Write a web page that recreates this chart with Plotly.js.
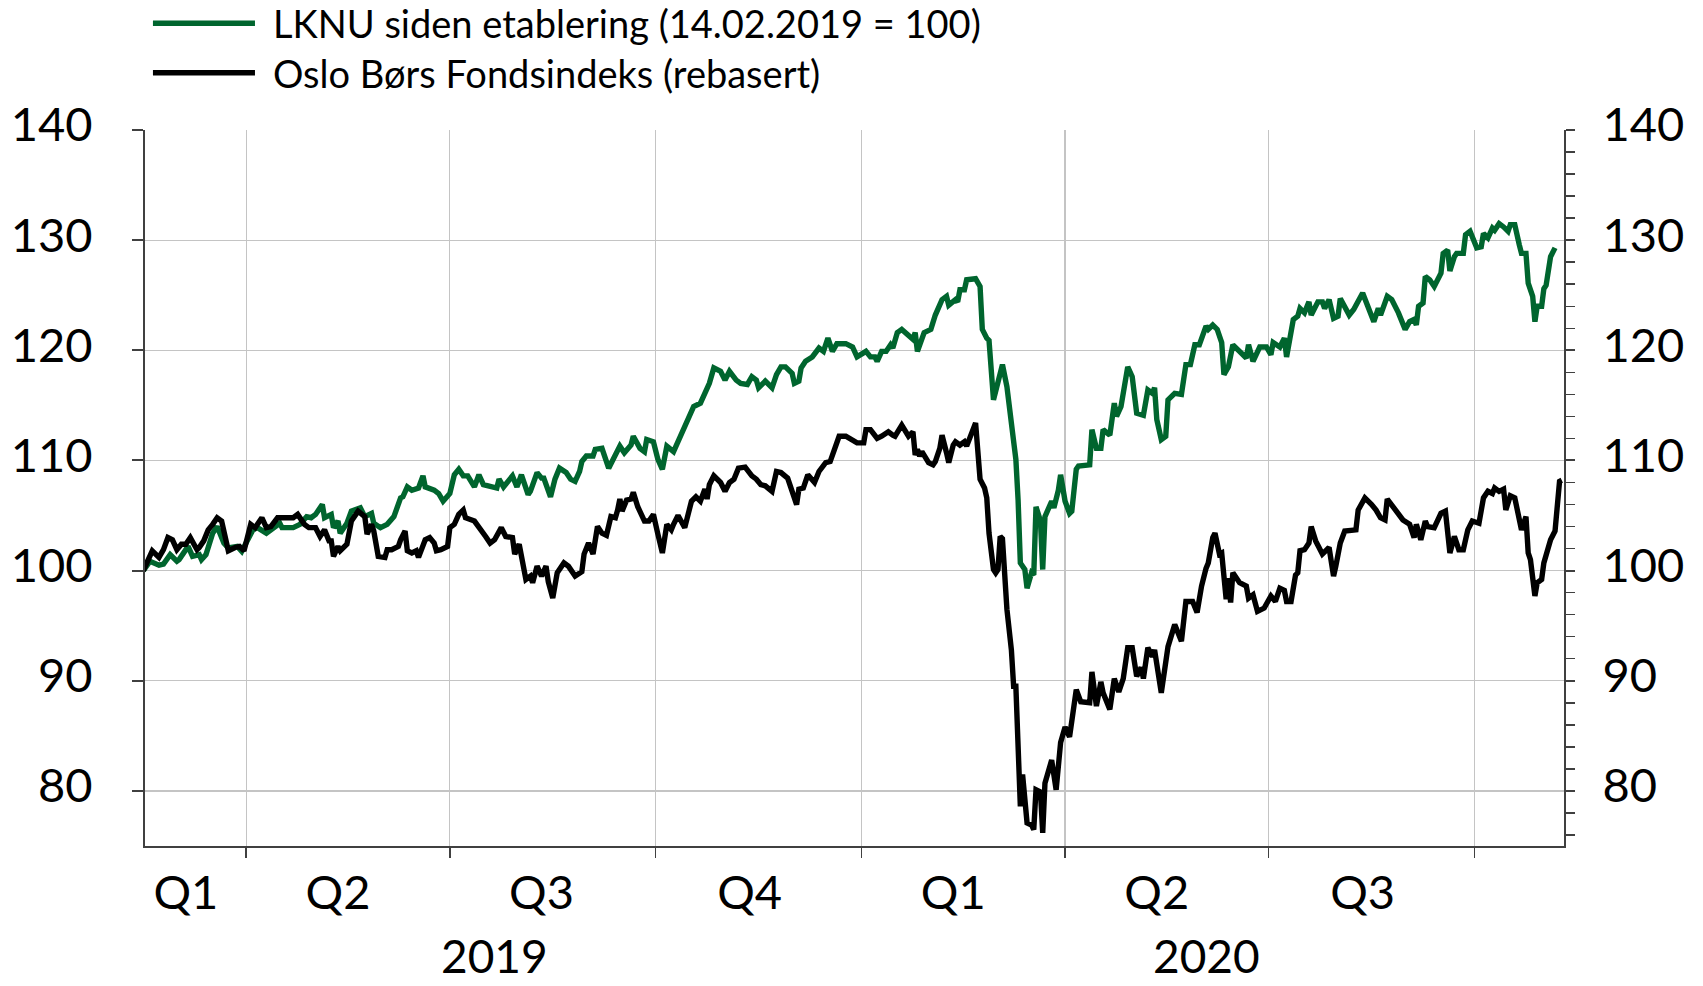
<!DOCTYPE html>
<html>
<head>
<meta charset="utf-8">
<script src="https://cdn.plot.ly/plotly-3.0.1.min.js"></script>
<style>
  html, body { margin: 0; padding: 0; background: #ffffff; }
  #chart { width: 1703px; height: 986px; }
</style>
</head>
<body>
<div id="chart"></div>
<script>
// ---------- DATA ----------
const seriesNames = [
  "LKNU siden etablering (14.02.2019 = 100)",
  "Oslo Børs Fondsindeks (rebasert)"
];

const lknuDates = [
"2019-02-14","2019-02-17","2019-02-21","2019-02-23","2019-02-26","2019-03-01","2019-03-02","2019-03-06","2019-03-08","2019-03-11",
"2019-03-12","2019-03-14","2019-03-17","2019-03-19","2019-03-22","2019-03-24","2019-03-28","2019-03-30","2019-04-04","2019-04-06",
"2019-04-10","2019-04-12","2019-04-16","2019-04-17","2019-04-22","2019-04-25","2019-04-28","2019-04-30","2019-05-02","2019-05-05",
"2019-05-06","2019-05-09","2019-05-10","2019-05-12","2019-05-13","2019-05-16","2019-05-18","2019-05-22","2019-05-24","2019-05-27",
"2019-05-28","2019-05-31","2019-06-03","2019-06-06","2019-06-09","2019-06-10","2019-06-12","2019-06-14","2019-06-17","2019-06-19",
"2019-06-20","2019-06-24","2019-06-26","2019-06-28","2019-07-01","2019-07-03","2019-07-05","2019-07-07","2019-07-09","2019-07-12",
"2019-07-14","2019-07-16","2019-07-19","2019-07-22","2019-07-23","2019-07-25","2019-07-29","2019-07-31","2019-08-02","2019-08-05",
"2019-08-06","2019-08-09","2019-08-11","2019-08-12","2019-08-15","2019-08-17","2019-08-19","2019-08-22","2019-08-24","2019-08-26",
"2019-08-28","2019-08-29","2019-08-31","2019-09-03","2019-09-04","2019-09-07","2019-09-10","2019-09-12","2019-09-15","2019-09-17",
"2019-09-20","2019-09-21","2019-09-24","2019-09-26","2019-09-27","2019-09-30","2019-10-02","2019-10-04","2019-10-06","2019-10-09",
"2019-10-12","2019-10-13","2019-10-15","2019-10-18","2019-10-21","2019-10-23","2019-10-25","2019-10-27","2019-10-30","2019-11-01",
"2019-11-03","2019-11-06","2019-11-08","2019-11-11","2019-11-13","2019-11-15","2019-11-16","2019-11-19","2019-11-22","2019-11-24",
"2019-11-26","2019-11-28","2019-12-01","2019-12-02","2019-12-04","2019-12-05","2019-12-07","2019-12-10","2019-12-13","2019-12-15",
"2019-12-17","2019-12-19","2019-12-21","2019-12-25","2019-12-28","2019-12-30","2020-01-01","2020-01-03","2020-01-05","2020-01-07",
"2020-01-08","2020-01-10","2020-01-12","2020-01-14","2020-01-15","2020-01-17","2020-01-19","2020-01-22","2020-01-24","2020-01-25",
"2020-01-26","2020-01-29","2020-01-31","2020-02-01","2020-02-03","2020-02-06","2020-02-08","2020-02-09","2020-02-12","2020-02-13",
"2020-02-14","2020-02-16","2020-02-17","2020-02-21","2020-02-23","2020-02-24","2020-02-26","2020-02-27","2020-02-29","2020-03-02",
"2020-03-04","2020-03-06","2020-03-08","2020-03-10","2020-03-11","2020-03-12","2020-03-14","2020-03-15","2020-03-17","2020-03-18",
"2020-03-19","2020-03-21","2020-03-22","2020-03-23","2020-03-26","2020-03-27","2020-03-29","2020-03-30","2020-04-01","2020-04-03",
"2020-04-04","2020-04-06","2020-04-07","2020-04-12","2020-04-13","2020-04-15","2020-04-17","2020-04-18","2020-04-21","2020-04-23",
"2020-04-24","2020-04-26","2020-04-29","2020-05-01","2020-05-03","2020-05-06","2020-05-08","2020-05-10","2020-05-11","2020-05-12",
"2020-05-14","2020-05-16","2020-05-17","2020-05-20","2020-05-23","2020-05-25","2020-05-27","2020-05-29","2020-05-31","2020-06-03",
"2020-06-04","2020-06-06","2020-06-08","2020-06-10","2020-06-11","2020-06-13","2020-06-15","2020-06-18","2020-06-21","2020-06-22",
"2020-06-24","2020-06-27","2020-06-30","2020-07-02","2020-07-03","2020-07-06","2020-07-08","2020-07-09","2020-07-12","2020-07-14",
"2020-07-15","2020-07-17","2020-07-19","2020-07-20","2020-07-23","2020-07-25","2020-07-26","2020-07-28","2020-07-30","2020-08-01",
"2020-08-02","2020-08-06","2020-08-08","2020-08-12","2020-08-15","2020-08-17","2020-08-19","2020-08-20","2020-08-23","2020-08-25",
"2020-08-28","2020-08-30","2020-08-31","2020-09-02","2020-09-04","2020-09-05","2020-09-06","2020-09-08","2020-09-09","2020-09-11",
"2020-09-13","2020-09-16","2020-09-17","2020-09-19","2020-09-20","2020-09-22","2020-09-23","2020-09-26","2020-09-27","2020-09-29",
"2020-10-02","2020-10-04","2020-10-05","2020-10-07","2020-10-09","2020-10-10","2020-10-12","2020-10-14","2020-10-16","2020-10-17",
"2020-10-19","2020-10-21","2020-10-22","2020-10-24","2020-10-25","2020-10-27","2020-10-28","2020-10-29","2020-10-31","2020-11-01",
"2020-11-02","2020-11-04","2020-11-06"
];
const lknuValues = [
100.0,100.85,100.5,100.6,101.45,100.85,101.0,102.2,101.3,101.45,
101.0,101.45,103.4,104.0,102.5,102.05,102.2,101.75,103.7,103.9,
103.4,103.7,104.3,103.9,103.9,104.2,104.9,104.8,105.1,106.0,
104.8,105.1,103.9,104.5,103.4,104.3,105.4,105.7,104.9,105.2,
104.3,103.9,104.2,104.9,106.6,106.7,107.6,107.3,107.5,108.6,
107.6,107.3,107.0,106.3,107.0,108.7,109.2,108.6,108.6,107.6,
108.7,107.8,107.6,107.5,108.3,107.6,108.6,107.6,108.7,106.9,
107.2,108.9,108.4,108.4,106.7,108.3,109.3,108.9,108.3,108.1,
109.0,109.9,110.4,110.4,111.0,111.1,109.3,110.1,111.3,110.7,
111.4,112.2,111.1,110.8,111.9,111.7,110.1,109.2,111.3,110.8,
112.2,112.5,113.7,114.9,115.2,116.0,117.0,118.4,118.1,117.3,
118.1,117.3,117.0,116.9,117.6,117.3,116.6,117.2,116.6,117.8,
118.5,118.5,117.9,117.0,117.2,118.4,119.0,119.4,120.2,119.9,
121.1,119.9,120.6,120.6,120.3,119.4,119.6,119.9,119.4,119.4,
119.0,119.9,119.9,120.5,120.2,121.6,121.9,121.4,121.0,121.6,
119.9,121.6,121.9,121.9,123.2,124.6,124.9,124.1,124.6,124.4,
125.5,125.5,126.4,126.5,125.8,121.9,121.1,120.9,115.5,117.3,
118.7,116.7,113.1,110.1,106.4,100.7,100.1,98.4,99.8,99.6,
105.8,104.5,100.1,104.9,106.3,105.7,107.3,108.7,106.3,105.2,
105.4,109.2,109.5,109.6,112.8,111.1,111.1,112.8,112.3,115.2,
114.0,114.9,118.5,117.6,114.3,114.1,116.4,116.1,116.6,113.7,
111.9,112.2,115.5,116.1,116.0,118.7,118.7,120.5,120.5,122.2,
121.9,122.3,121.9,120.7,117.8,118.5,120.5,119.9,119.3,120.5,
119.0,120.3,120.3,119.6,120.7,120.3,121.1,119.4,122.8,123.1,
123.8,123.4,124.4,123.2,124.4,124.4,123.8,124.6,122.9,123.1,
124.7,123.2,123.7,125.2,123.7,122.6,123.8,123.2,124.9,124.6,
123.4,122.3,121.9,122.6,122.8,122.3,124.0,124.3,126.7,126.4,
125.8,127.0,128.8,129.1,127.2,128.5,128.8,128.8,130.5,130.8,
129.3,129.4,130.6,130.2,131.1,130.9,131.5,131.2,130.8,131.4,
131.4,129.6,128.8,128.8,126.1,124.9,122.6,124.0,124.0,125.6,
125.9,128.5,129.3
];

const obfxDates = [
"2019-02-14","2019-02-17","2019-02-18","2019-02-21","2019-02-23","2019-02-25","2019-02-27","2019-03-01","2019-03-03","2019-03-05",
"2019-03-07","2019-03-10","2019-03-11","2019-03-13","2019-03-15","2019-03-17","2019-03-19","2019-03-21","2019-03-24","2019-03-27",
"2019-03-29","2019-03-31","2019-04-03","2019-04-05","2019-04-08","2019-04-10","2019-04-12","2019-04-15","2019-04-18","2019-04-22",
"2019-04-24","2019-04-27","2019-04-29","2019-05-02","2019-05-04","2019-05-06","2019-05-08","2019-05-09","2019-05-10","2019-05-12",
"2019-05-13","2019-05-16","2019-05-18","2019-05-20","2019-05-21","2019-05-24","2019-05-25","2019-05-27","2019-05-28","2019-05-30",
"2019-06-02","2019-06-03","2019-06-05","2019-06-08","2019-06-09","2019-06-11","2019-06-12","2019-06-14","2019-06-16","2019-06-17",
"2019-06-19","2019-06-20","2019-06-22","2019-06-24","2019-06-25","2019-06-27","2019-06-30","2019-07-01","2019-07-03","2019-07-05",
"2019-07-07","2019-07-08","2019-07-12","2019-07-14","2019-07-17","2019-07-19","2019-07-21","2019-07-24","2019-07-26","2019-07-29",
"2019-07-30","2019-08-01","2019-08-04","2019-08-06","2019-08-07","2019-08-09","2019-08-11","2019-08-13","2019-08-14","2019-08-16",
"2019-08-18","2019-08-21","2019-08-23","2019-08-26","2019-08-29","2019-08-30","2019-09-01","2019-09-03","2019-09-05","2019-09-07",
"2019-09-09","2019-09-11","2019-09-13","2019-09-14","2019-09-15","2019-09-16","2019-09-18","2019-09-20","2019-09-21","2019-09-23",
"2019-09-26","2019-09-28","2019-09-30","2019-10-02","2019-10-04","2019-10-06","2019-10-08","2019-10-09","2019-10-11","2019-10-14",
"2019-10-17","2019-10-19","2019-10-21","2019-10-23","2019-10-24","2019-10-25","2019-10-27","2019-10-30","2019-11-01","2019-11-03",
"2019-11-05","2019-11-07","2019-11-10","2019-11-13","2019-11-15","2019-11-17","2019-11-19","2019-11-22","2019-11-24","2019-11-26",
"2019-11-29","2019-12-01","2019-12-03","2019-12-04","2019-12-06","2019-12-08","2019-12-11","2019-12-13","2019-12-16","2019-12-18",
"2019-12-20","2019-12-22","2019-12-25","2019-12-28","2019-12-30","2020-01-02","2020-01-03","2020-01-05","2020-01-08","2020-01-10",
"2020-01-13","2020-01-15","2020-01-16","2020-01-19","2020-01-20","2020-01-22","2020-01-24","2020-01-25","2020-01-26","2020-01-27",
"2020-01-28","2020-01-31","2020-02-02","2020-02-03","2020-02-05","2020-02-06","2020-02-08","2020-02-09","2020-02-11","2020-02-12",
"2020-02-14","2020-02-16","2020-02-17","2020-02-19","2020-02-21","2020-02-23","2020-02-25","2020-02-26","2020-02-27","2020-02-29",
"2020-03-01","2020-03-02","2020-03-03","2020-03-04","2020-03-06","2020-03-08","2020-03-09","2020-03-10","2020-03-11","2020-03-12",
"2020-03-13","2020-03-15","2020-03-17","2020-03-18","2020-03-19","2020-03-21","2020-03-22","2020-03-23","2020-03-26","2020-03-28",
"2020-03-30","2020-04-01","2020-04-03","2020-04-06","2020-04-08","2020-04-12","2020-04-13","2020-04-15","2020-04-17","2020-04-18",
"2020-04-21","2020-04-23","2020-04-25","2020-04-27","2020-04-29","2020-05-01","2020-05-03","2020-05-05","2020-05-06","2020-05-08",
"2020-05-10","2020-05-11","2020-05-14","2020-05-17","2020-05-20","2020-05-23","2020-05-25","2020-05-28","2020-05-30","2020-06-01",
"2020-06-03","2020-06-04","2020-06-06","2020-06-07","2020-06-09","2020-06-10","2020-06-12","2020-06-13","2020-06-14","2020-06-15",
"2020-06-18","2020-06-21","2020-06-22","2020-06-24","2020-06-26","2020-06-29","2020-07-02","2020-07-04","2020-07-06","2020-07-08",
"2020-07-09","2020-07-11","2020-07-13","2020-07-14","2020-07-15","2020-07-17","2020-07-19","2020-07-20","2020-07-22","2020-07-25",
"2020-07-28","2020-07-30","2020-07-31","2020-08-02","2020-08-04","2020-08-07","2020-08-09","2020-08-10","2020-08-12","2020-08-13",
"2020-08-16","2020-08-18","2020-08-20","2020-08-22","2020-08-23","2020-08-25","2020-08-28","2020-08-30","2020-09-02","2020-09-04",
"2020-09-05","2020-09-07","2020-09-09","2020-09-10","2020-09-13","2020-09-16","2020-09-18","2020-09-20","2020-09-22","2020-09-24",
"2020-09-26","2020-09-28","2020-09-30","2020-10-03","2020-10-05","2020-10-07","2020-10-09","2020-10-10","2020-10-12","2020-10-14",
"2020-10-15","2020-10-17","2020-10-19","2020-10-21","2020-10-22","2020-10-24","2020-10-25","2020-10-26","2020-10-28","2020-10-29",
"2020-10-31","2020-11-01","2020-11-02","2020-11-04","2020-11-06","2020-11-08","2020-11-09"
];
const obfxValues = [
100.0,101.6,101.8,101.2,101.9,103.0,102.8,101.9,102.4,102.4,
103.0,101.9,102.1,102.7,103.7,104.2,104.8,104.5,101.8,102.1,
102.2,101.8,104.2,103.9,104.8,103.9,104.0,104.8,104.8,104.8,
105.1,104.2,103.9,103.9,103.1,103.7,102.7,102.7,101.3,102.2,
101.8,102.4,104.5,105.1,105.4,104.9,103.3,104.2,103.6,101.3,
101.2,101.9,101.9,102.2,102.8,103.6,101.8,101.6,101.8,101.2,
102.2,102.8,103.0,102.5,101.8,101.9,102.2,103.9,104.2,105.1,
105.5,104.8,104.5,104.0,103.1,102.5,102.8,103.9,103.1,103.0,
101.5,102.4,99.2,99.5,98.9,100.4,99.5,100.4,99.0,97.5,
99.8,100.7,100.4,99.5,99.9,101.5,102.5,101.5,104.0,103.4,
103.2,104.9,104.8,105.5,106.5,105.4,106.4,106.5,107.1,105.8,
104.5,104.5,105.1,103.3,101.6,104.2,103.7,104.2,105.0,103.9,
106.3,106.7,106.3,107.4,106.5,107.8,108.6,108.0,107.2,108.0,
108.3,109.3,109.4,108.6,108.3,107.8,107.7,107.2,109.0,108.9,
108.4,107.2,106.0,107.4,107.5,108.7,108.0,109.0,109.8,109.9,
111.0,112.2,112.2,111.9,111.6,111.6,112.8,112.8,112.0,112.2,
112.6,112.3,112.2,113.2,112.9,112.2,112.6,110.5,111.0,110.4,
110.8,109.8,109.6,109.9,111.1,112.3,110.7,109.8,111.4,111.7,
111.4,111.7,111.3,112.5,113.4,108.3,107.5,106.6,103.4,100.1,
99.8,100.1,103.1,102.9,96.5,92.8,89.5,89.5,83.7,78.6,
81.5,77.1,76.9,76.5,80.1,79.9,76.2,80.7,82.8,80.1,
84.4,85.8,84.9,89.2,88.1,88.0,90.8,87.7,89.9,88.9,
87.4,90.2,89.0,90.2,93.0,93.0,90.4,91.2,90.2,93.0,
92.2,92.8,88.9,93.1,95.1,93.6,97.2,97.2,96.2,98.6,
100.2,100.7,103.0,103.4,101.5,101.6,97.4,99.3,97.1,99.8,
98.9,98.6,97.5,97.8,96.3,96.6,97.7,97.2,98.4,98.2,
97.2,97.2,99.6,99.8,101.8,101.9,102.5,104.0,102.7,101.5,
102.1,99.5,100.4,102.5,103.6,103.7,103.7,105.5,106.2,106.6,
106.0,105.5,104.8,104.6,106.5,106.0,105.1,104.6,104.2,103.0,
104.2,102.8,104.5,104.0,103.9,105.2,105.4,101.6,103.1,101.9,
101.9,103.7,104.5,104.3,106.6,107.2,107.0,107.5,107.2,107.4,
105.5,106.8,106.6,104.8,103.7,104.9,101.6,101.0,97.7,98.9,
99.2,100.7,101.3,102.8,103.6,108.1,108.2
];

const yTickValues = [80, 90, 100, 110, 120, 130, 140];
const quarterStarts = ["2019-04-01","2019-07-01","2019-10-01","2020-01-01","2020-04-01","2020-07-01","2020-10-01"];
const quarterLabels = ["Q1","Q2","Q3","Q4","Q1","Q2","Q3"];
const quarterLabelDates = ["2019-03-05","2019-05-12","2019-08-11","2019-11-12","2020-02-11","2020-05-12","2020-08-12"];
const yearLabels = ["2019","2020"];
const yearLabelDates = ["2019-07-21","2020-06-03"];

// ---------- STYLE ----------
const FONT = "Lato, 'Open Sans', sans-serif";
const GREEN = "#00652E";
const AXIS = "#404040";
const GRID = "#c4c4c4";
const LINE_W = 5.4;
const TICK_SIZE = 47;

const traces = [
  { x: lknuDates, y: lknuValues, name: seriesNames[0], type: "scatter", mode: "lines",
    line: { color: GREEN, width: LINE_W }, yaxis: "y", showlegend: false, hoverinfo: "skip" },
  { x: obfxDates, y: obfxValues, name: seriesNames[1], type: "scatter", mode: "lines",
    line: { color: "#000000", width: LINE_W }, yaxis: "y2", showlegend: false, hoverinfo: "skip" }
];

const yRange = [75, 140];

const annotations = [];
yearLabels.forEach((t, i) => {
  annotations.push({ x: yearLabelDates[i], y: -0.153, xref: "x", yref: "paper",
    text: t, showarrow: false, xanchor: "center", yanchor: "middle",
    font: { family: FONT, size: 46, color: "#000" } });
});

// manual legend
const legendRows = [1.149, 1.080];
const legendColors = [GREEN, "#000000"];
const shapes = [];
seriesNames.forEach((name, i) => {
  shapes.push({ type: "line", xref: "paper", yref: "paper",
    x0: 0.0056, x1: 0.0775, y0: legendRows[i], y1: legendRows[i],
    line: { color: legendColors[i], width: LINE_W } });
  annotations.push({ x: 0.0885, y: legendRows[i], xref: "paper", yref: "paper",
    text: name, showarrow: false, xanchor: "left", yanchor: "middle",
    font: { family: FONT, size: 38, color: "#000" } });
});

const layout = {
  width: 1703, height: 986,
  margin: { l: 145, r: 139, t: 130, b: 140, pad: 0 },
  paper_bgcolor: "#ffffff", plot_bgcolor: "#ffffff",
  font: { family: FONT, color: "#000" },
  showlegend: false,
  hovermode: false,
  xaxis: {
    type: "date",
    range: ["2019-02-14 18:00", "2020-11-10 00:00"],
    tickmode: "array", tickvals: quarterLabelDates, ticktext: quarterLabels,
    ticks: "outside", ticklen: 0, tickcolor: "rgba(0,0,0,0)",
    showgrid: false, zeroline: false,
    showline: true, linecolor: AXIS, linewidth: 2,
    tickfont: { family: FONT, size: TICK_SIZE, color: "#000" },
    ticklabelstandoff: 5,
    minor: { tickmode: "array", tickvals: quarterStarts, ticks: "outside", ticklen: 10,
             tickcolor: AXIS, tickwidth: 1.5, showgrid: true, gridcolor: GRID, gridwidth: 1.3 },
    fixedrange: true
  },
  yaxis: {
    range: yRange, tickmode: "array", tickvals: yTickValues,
    ticks: "outside", ticklen: 11, tickcolor: AXIS, tickwidth: 2,
    showgrid: true, gridcolor: GRID, gridwidth: 1.3, zeroline: false,
    showline: true, linecolor: AXIS, linewidth: 2,
    tickfont: { family: FONT, size: TICK_SIZE, color: "#000" },
    ticklabelstandoff: 30, ticklabelshift: -5,
    fixedrange: true
  },
  yaxis2: {
    overlaying: "y", side: "right", anchor: "x",
    range: yRange, tickmode: "array", tickvals: yTickValues,
    ticks: "outside", ticklen: 9, tickcolor: AXIS, tickwidth: 2,
    showgrid: false, zeroline: false,
    showline: true, linecolor: AXIS, linewidth: 2,
    tickfont: { family: FONT, size: TICK_SIZE, color: "#000" },
    ticklabelstandoff: 18, ticklabelshift: -5,
    minor: { dtick: 2, tick0: 0, ticks: "outside", ticklen: 9, tickcolor: AXIS, tickwidth: 1.5, showgrid: false },
    fixedrange: true
  },
  shapes: shapes,
  annotations: annotations
};

Plotly.newPlot("chart", traces, layout, { staticPlot: true, displayModeBar: false });
</script>
</body>
</html>
